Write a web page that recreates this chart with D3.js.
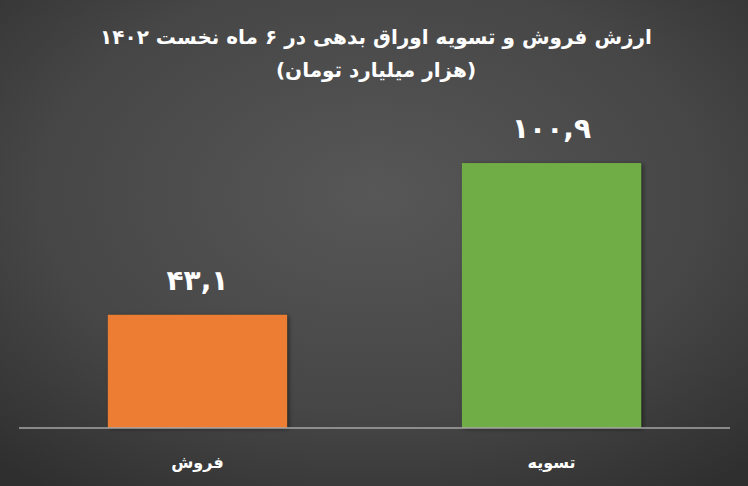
<!DOCTYPE html>
<html><head><meta charset="utf-8">
<script src="https://cdn.jsdelivr.net/npm/d3@7"></script>
<style>html,body{margin:0;padding:0;background:#3a3a3a;}svg{display:block;}</style>
</head><body>
<svg id="c" width="748" height="486"></svg>
<script>
const categories = ["فروش", "تسویه"];
const values = [43.1, 100.9];
const colors = ["#ED7D31", "#70AD47"];
const titleLines = ["ارزش فروش و تسویه اوراق بدهی در ۶ ماه نخست ۱۴۰۲", "(هزار میلیارد تومان)"];

const W = 748, H = 486;
const svg = d3.select("#c");
const defs = svg.append("defs");
const rg = defs.append("radialGradient").attr("id","bg")
  .attr("cx","50%").attr("cy","40%").attr("r","75%");
rg.append("stop").attr("offset","0%").attr("stop-color","#575757");
rg.append("stop").attr("offset","60%").attr("stop-color","#464646");
rg.append("stop").attr("offset","100%").attr("stop-color","#2f2f2f");
const f = defs.append("filter").attr("id","sh").attr("x","-10%").attr("y","-10%").attr("width","130%").attr("height","130%");
f.append("feDropShadow").attr("dx",2).attr("dy",1).attr("stdDeviation",2).attr("flood-color","#000").attr("flood-opacity",0.45);

svg.append("rect").attr("width",W).attr("height",H).attr("fill","url(#bg)");

const x = d3.scaleBand().domain(categories).range([19,730]).paddingInner(0.494).paddingOuter(0.251);
const y = d3.scaleLinear().domain([0,100]).range([428,165.4]);

const fa = s => s.replace(/\d/g, d => "۰۱۲۳۴۵۶۷۸۹"[+d]).replace(".", ",");
const font = "'DejaVu Sans', 'Noto Sans', sans-serif";

svg.append("g").selectAll("rect").data(values).join("rect")
  .attr("x",(d,i)=>x(categories[i]))
  .attr("width",x.bandwidth())
  .attr("y",d=>y(d))
  .attr("height",d=>y(0)-y(d))
  .attr("fill",(d,i)=>colors[i])
  .attr("filter","url(#sh)");

svg.append("line").attr("x1",19).attr("x2",730).attr("y1",y(0)).attr("y2",y(0))
  .attr("stroke","#a6a6a6").attr("stroke-width",1.5);

svg.append("g").selectAll("text").data(values).join("text")
  .attr("x",(d,i)=>x(categories[i])+x.bandwidth()/2)
  .attr("y",d=>y(d)-25)
  .attr("text-anchor","middle")
  .attr("fill","#fff").attr("font-family",font).attr("font-weight","bold").attr("font-size",28)
  .attr("direction","rtl")
  .text(d=>fa(d.toFixed(1)));

svg.append("g").selectAll("text").data(categories).join("text")
  .attr("x",d=>x(d)+x.bandwidth()/2)
  .attr("y",468)
  .attr("text-anchor","middle")
  .attr("fill","#fff").attr("font-family",font).attr("font-weight","bold").attr("font-size",16)
  .attr("direction","rtl")
  .text(d=>d);

svg.append("g").selectAll("text").data(titleLines).join("text")
  .attr("x",W/2+2)
  .attr("y",(d,i)=>44+i*33)
  .attr("text-anchor","middle")
  .attr("fill","#fff").attr("font-family",font).attr("font-weight","bold").attr("font-size",20)
  .attr("direction","rtl")
  .text(d=>d);
</script>
</body></html>
